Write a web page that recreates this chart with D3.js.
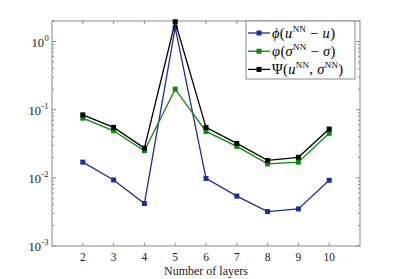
<!DOCTYPE html>
<html><head><meta charset="utf-8">
<script src="https://cdn.jsdelivr.net/npm/d3@7"></script>
<style>body{margin:0;background:#fff}</style>
</head><body>
<svg id="c" width="399" height="279"></svg>
<script>
const layers = [2,3,4,5,6,7,8,9,10];
const phiU   = [0.017,0.0093,0.0042,1.6,0.0098,0.0054,0.0032,0.0035,0.0092];
const phiSig = [0.075,0.049,0.025,0.20,0.048,0.029,0.016,0.017,0.045];
const psiAll = [0.084,0.055,0.0273,1.95,0.055,0.032,0.018,0.020,0.052];
const seriesColors = ["#1a2f96","#0a8a0a","#000000"];
const yTickExp = [0,-1,-2,-3];
const xLabel = "Number of layers";

const svg = d3.select("#c");
const L=52, R=360, T=21, B=246;
const font = "'Liberation Serif','DejaVu Serif',serif";
const x = d3.scaleLinear().domain([1,11]).range([L,R]);
const y = d3.scaleLog().domain([1e-3,2]).range([B,T]);
const axisCol = "#8a8a8a";

svg.append("rect").attr("x",L).attr("y",T).attr("width",R-L).attr("height",B-T)
  .attr("fill","none").attr("stroke",axisCol).attr("stroke-width",1);

layers.forEach(v=>{
  svg.append("line").attr("x1",x(v)).attr("x2",x(v)).attr("y1",B).attr("y2",B-3).attr("stroke",axisCol);
  svg.append("line").attr("x1",x(v)).attr("x2",x(v)).attr("y1",T).attr("y2",T+3).attr("stroke",axisCol);
  svg.append("text").attr("x",x(v)).attr("y",B+15).attr("text-anchor","middle")
    .attr("font-family",font).attr("font-size",11.5).attr("fill","#222").text(v);
});
for(let e=-3;e<=0;e++){
  for(let m=1;m<=9;m++){
    const v=m*Math.pow(10,e);
    if(v<1e-3||v>2) continue;
    const len = m===1?4:2;
    svg.append("line").attr("x1",L).attr("x2",L+len).attr("y1",y(v)).attr("y2",y(v)).attr("stroke",axisCol);
    svg.append("line").attr("x1",R).attr("x2",R-len).attr("y1",y(v)).attr("y2",y(v)).attr("stroke",axisCol);
  }
}
svg.append("line").attr("x1",L).attr("x2",L+2).attr("y1",y(2)).attr("y2",y(2)).attr("stroke",axisCol);
svg.append("line").attr("x1",R).attr("x2",R-2).attr("y1",y(2)).attr("y2",y(2)).attr("stroke",axisCol);
yTickExp.forEach(e=>{
  const yy=y(Math.pow(10,e));
  const ex = e<0?"-"+(-e):""+e;
  const exX = e<0?L-11:L-8;
  svg.append("text").attr("x",exX).attr("y",yy+5).attr("text-anchor","end")
    .attr("font-family",font).attr("font-size",12.5).attr("fill","#222").text("10");
  svg.append("text").attr("x",exX+0.5).attr("y",yy-1).attr("text-anchor","start")
    .attr("font-family",font).attr("font-size",8.5).attr("fill","#222").text(ex);
});
svg.append("text").attr("x",(L+R)/2).attr("y",B+29).attr("text-anchor","middle")
  .attr("font-family",font).attr("font-size",12).attr("fill","#222").text(xLabel);

const data=[phiU,phiSig,psiAll];
const line=d3.line().x((d,i)=>x(layers[i])).y(d=>y(d));
[0,1,2].forEach(k=>{
  svg.append("path").datum(data[k]).attr("d",line).attr("fill","none")
    .attr("stroke",seriesColors[k]).attr("stroke-width",1.3);
  svg.selectAll(null).data(data[k]).enter().append("rect")
    .attr("x",(d,i)=>x(layers[i])-2.5).attr("y",d=>y(d)-2.5).attr("width",5).attr("height",5)
    .attr("fill",seriesColors[k]);
});

const lg=svg.append("g");
lg.append("rect").attr("x",246).attr("y",21).attr("width",109).attr("height",58)
  .attr("fill","#fff").attr("stroke",axisCol);
const rows=[
  [["ϕ","i"],["(",""],["u","i"],["NN","s"],[" − ",""],["u","i"],[")",""]],
  [["φ","i"],["(",""],["σ","i"],["NN","s"],[" − ",""],["σ","i"],[")",""]],
  [["Ψ",""],["(",""],["u","i"],["NN","s"],[", ",""],["σ","i"],["NN","s"],[")",""]]
];
rows.forEach((r,k)=>{
  const yy=33+k*18.2;
  lg.append("line").attr("x1",248).attr("x2",270).attr("y1",yy).attr("y2",yy)
    .attr("stroke",seriesColors[k]).attr("stroke-width",1.3);
  lg.append("rect").attr("x",256.5).attr("y",yy-2.5).attr("width",5).attr("height",5).attr("fill",seriesColors[k]);
  const t=lg.append("text").attr("x",272).attr("y",yy+4.5).attr("font-family",font)
    .attr("font-size",14.5).attr("letter-spacing",0.35).attr("fill","#000");
  r.forEach(([s,f],i)=>{
    const sp=t.append("tspan").text(s);
    if(f==="i") sp.attr("font-style","italic");
    if(f==="s") sp.attr("font-size",9).attr("dy",-6).attr("letter-spacing",0.2);
    else if(i>0 && r[i-1][1]==="s") sp.attr("dy",6);
  });
});
</script>
</body></html>
